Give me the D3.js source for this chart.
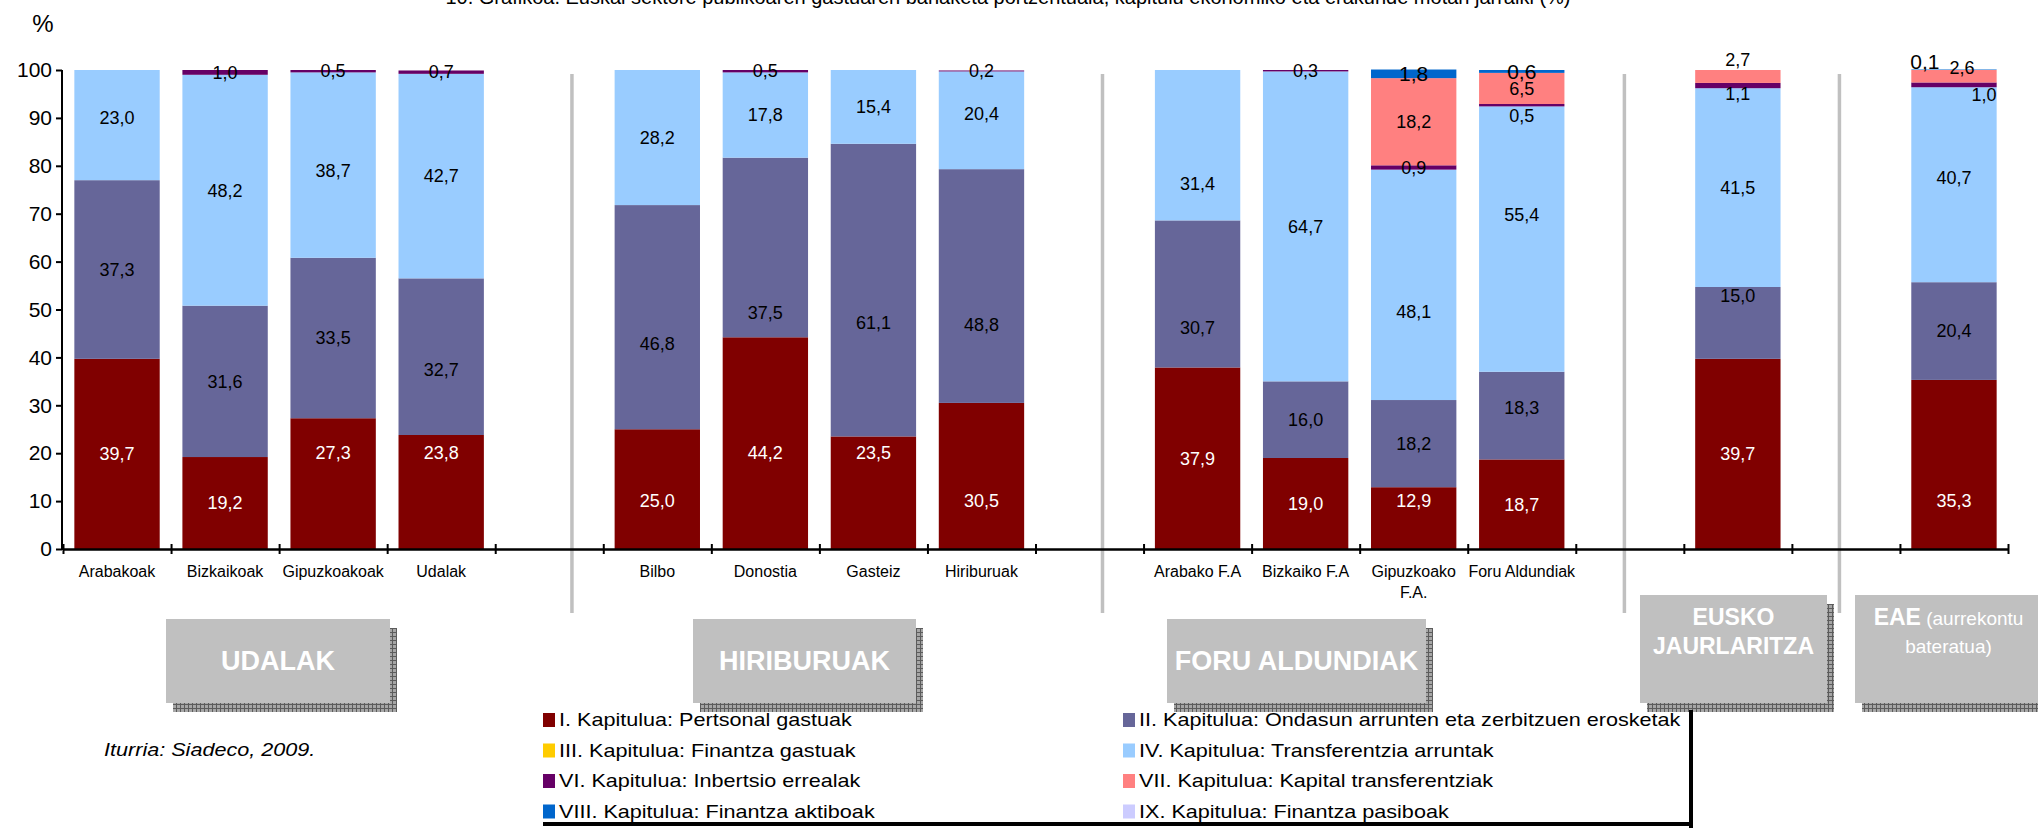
<!DOCTYPE html>
<html>
<head>
<meta charset="utf-8">
<script src="https://cdn.jsdelivr.net/npm/d3@7"></script>
<style>
  html, body { margin: 0; padding: 0; background: #fff; }
  svg { display: block; font-family: "Liberation Sans", Arial, sans-serif; }
</style>
</head>
<body>
<script>
// categories (x slots), "_" entries are the empty gap slots between groups
const slots = ['Arabakoak', 'Bizkaikoak', 'Gipuzkoakoak', 'Udalak', '_1',
  'Bilbo', 'Donostia', 'Gasteiz', 'Hiriburuak', '_2',
  'Arabako F.A', 'Bizkaiko F.A', 'Gipuzkoako F.A.', 'Foru Aldundiak', '_3',
  'Eusko Jaurlaritza', '_4', 'EAE'];
const categories = slots.filter(s => s[0] !== '_');
const tickLabels = ['Arabakoak', 'Bizkaikoak', 'Gipuzkoakoak', 'Udalak',
  'Bilbo', 'Donostia', 'Gasteiz', 'Hiriburuak',
  'Arabako F.A', 'Bizkaiko F.A', 'Gipuzkoako|F.A.', 'Foru Aldundiak', '', ''];

// series values (%), same order as categories
const kapI    = [39.7, 19.2, 27.3, 23.8, 25.0, 44.2, 23.5, 30.5, 37.9, 19.0, 12.9, 18.7, 39.7, 35.3];
const kapII   = [37.3, 31.6, 33.5, 32.7, 46.8, 37.5, 61.1, 48.8, 30.7, 16.0, 18.2, 18.3, 15.0, 20.4];
const kapIII  = [0, 0, 0, 0, 0, 0, 0, 0, 0, 0, 0, 0, 0, 0];
const kapIV   = [23.0, 48.2, 38.7, 42.7, 28.2, 17.8, 15.4, 20.4, 31.4, 64.7, 48.1, 55.4, 41.5, 40.7];
const kapVI   = [0, 1.0, 0.5, 0.7, 0, 0.5, 0, 0.2, 0, 0.3, 0.9, 0.5, 1.1, 1.0];
const kapVII  = [0, 0, 0, 0, 0, 0, 0, 0, 0, 0, 18.2, 6.5, 2.7, 2.6];
const kapVIII = [0, 0, 0, 0, 0, 0, 0, 0, 0, 0, 1.8, 0.6, 0, 0.1];
const kapIX   = [0, 0, 0, 0, 0, 0, 0, 0, 0, 0, 0, 0, 0, 0];

const seriesNames = [
  'I. Kapitulua: Pertsonal gastuak',
  'II. Kapitulua: Ondasun arrunten eta zerbitzuen erosketak',
  'III. Kapitulua: Finantza gastuak',
  'IV. Kapitulua: Transferentzia arruntak',
  'VI. Kapitulua: Inbertsio errealak',
  'VII. Kapitulua: Kapital transferentziak',
  'VIII. Kapitulua: Finantza aktiboak',
  'IX. Kapitulua: Finantza pasiboak'
];
const seriesValues = [kapI, kapII, kapIII, kapIV, kapVI, kapVII, kapVIII, kapIX];
const colors = ['#800000', '#666699', '#FFCC00', '#99CCFF', '#660066', '#FF8080', '#0066CC', '#CCCCFF'];
const yTicks = [0, 10, 20, 30, 40, 50, 60, 70, 80, 90, 100];

const groupBoxes = [
  { lines: [['UDALAK', true]], x0: 166, x1: 390, y0: 619, y1: 703 },
  { lines: [['HIRIBURUAK', true]], x0: 693, x1: 916, y0: 619, y1: 703 },
  { lines: [['FORU ALDUNDIAK', true]], x0: 1167, x1: 1426, y0: 619, y1: 703 },
  { lines: [['EUSKO', true], ['JAURLARITZA', true]], x0: 1640, x1: 1827, y0: 595, y1: 703 },
  { lines: [['EAE', true, ' (aurrekontu'], ['bateratua)', false]], x0: 1855, x1: 2042, y0: 595, y1: 703 }
];

// hand placed label nudges [dx, dy] in px, keyed "category|series index"
const labelNudge = {
  'Arabakoak|3': [0, -7],
  'Gipuzkoakoak|3': [0, 6], 'Gipuzkoakoak|0': [0, -31],
  'Udalak|1': [0, 13], 'Udalak|0': [0, -39],
  'Bilbo|1': [0, 27], 'Bilbo|0': [0, 12],
  'Donostia|1': [0, 65], 'Donostia|0': [0, 10],
  'Gasteiz|1': [0, 33], 'Gasteiz|0': [0, -40],
  'Hiriburuak|1': [0, 39], 'Hiriburuak|3': [0, -7], 'Hiriburuak|0': [0, 25],
  'Arabako F.A|3': [0, 38], 'Arabako F.A|1': [0, 34],
  'Gipuzkoako F.A.|3': [0, 27], 'Gipuzkoako F.A.|0': [0, -17],
  'Foru Aldundiak|4': [0, 10], 'Foru Aldundiak|3': [0, -24], 'Foru Aldundiak|1': [0, -8],
  'Eusko Jaurlaritza|5': [0, -17], 'Eusko Jaurlaritza|4': [0, 8], 'Eusko Jaurlaritza|1': [0, -27],
  'EAE|6': [-29, -8], 'EAE|5': [8, -9], 'EAE|4': [30, 10], 'EAE|3': [0, -7], 'EAE|0': [0, 36]
};

const W = 2038, H = 828;
const svg = d3.select('body').append('svg').attr('width', W).attr('height', H);

const defs = svg.append('defs');
const pat = defs.append('pattern').attr('id', 'hatch')
  .attr('width', 4).attr('height', 4).attr('patternUnits', 'userSpaceOnUse');
pat.append('rect').attr('width', 4).attr('height', 4).attr('fill', '#a6a6a6');
pat.append('path').attr('d', 'M0 0.5H4M0.5 0V4').attr('stroke', '#5c5c5c').attr('stroke-width', 1);

const x = d3.scaleBand().domain(slots).range([63, 2008]).paddingInner(0.21).paddingOuter(0.105);
const slotX = d3.scaleLinear().domain([0, slots.length]).range([63, 2008]);
const y = d3.scaleLinear().domain([0, 100]).range([549, 70]);

// title (cut off at the top edge as in the source picture)
svg.append('text')
  .attr('x', 1008).attr('y', 4)
  .attr('text-anchor', 'middle')
  .style('font-size', '20px')
  .text('10. Grafikoa. Euskal sektore publikoaren gastuaren banaketa portzentuala, kapitulu ekonomiko eta erakunde motari jarraiki (%)');

svg.append('text').attr('x', 43).attr('y', 32).attr('text-anchor', 'middle')
  .style('font-size', '24px').text('%');

// group separators
const sepSlots = [4.71, 9.62, 14.45, 16.44];
svg.append('g').selectAll('line').data(sepSlots).join('line')
  .attr('x1', d => slotX(d)).attr('x2', d => slotX(d))
  .attr('y1', 74).attr('y2', 613)
  .attr('stroke', '#c0c0c0').attr('stroke-width', 3.5);

// stacked bars
const rows = categories.map((c, i) => {
  const r = { cat: c };
  seriesValues.forEach((s, k) => { r['s' + k] = s[i]; });
  return r;
});
const keys = seriesValues.map((s, k) => 's' + k);
const stacked = d3.stack().keys(keys)(rows);

const barG = svg.append('g');
stacked.forEach((layer, k) => {
  barG.append('g').attr('fill', colors[k])
    .selectAll('rect')
    .data(layer.filter(d => d[1] - d[0] > 0))
    .join('rect')
    .attr('x', d => x(d.data.cat))
    .attr('width', x.bandwidth())
    .attr('y', d => y(d[1]))
    .attr('height', d => y(d[0]) - y(d[1]));
});

// value labels
const fmt = v => d3.format('.1f')(v).replace('.', ',');
const labG = svg.append('g').attr('text-anchor', 'middle');
stacked.forEach((layer, k) => {
  layer.filter(d => d[1] - d[0] > 0).forEach(d => {
    const nud = labelNudge[d.data.cat + '|' + k] || [0, 0];
    labG.append('text')
      .attr('x', x(d.data.cat) + x.bandwidth() / 2 + nud[0])
      .attr('y', (y(d[0]) + y(d[1])) / 2 + nud[1])
      .attr('dy', '0.35em')
      .attr('fill', k === 0 ? '#fff' : '#000')
      .style('font-size', k === 6 ? '21px' : '18px')
      .text(fmt(d[1] - d[0]));
  });
});

// y axis
const yAxis = svg.append('g').attr('transform', 'translate(62,0)')
  .call(d3.axisLeft(y).tickValues(yTicks).tickSize(6).tickSizeOuter(0).tickPadding(4));
yAxis.select('.domain').attr('stroke', '#000').attr('stroke-width', 2)
  .attr('d', `M0,${y(100)}V${y(0) + 1}`);
yAxis.selectAll('.tick line').attr('stroke-width', 2);
yAxis.selectAll('.tick text').style('font-size', '21px').attr('fill', '#000')
  .style('font-family', '"Liberation Sans", Arial, sans-serif');

// x axis (ticks on slot boundaries, crossing the line)
const xAxis = svg.append('g').attr('transform', `translate(0,${y(0)})`)
  .call(d3.axisBottom(slotX).tickValues(d3.range(slots.length + 1)).tickFormat('').tickSize(5).tickSizeOuter(0));
xAxis.select('.domain').attr('stroke', '#000').attr('stroke-width', 2.5);
xAxis.selectAll('.tick line').attr('y1', -5).attr('stroke-width', 2);

// category labels
const catG = svg.append('g').attr('text-anchor', 'middle').style('font-size', '16px');
categories.forEach((c, i) => {
  const parts = tickLabels[i].split('|');
  parts.forEach((p, j) => {
    if (!p) return;
    catG.append('text')
      .attr('x', x(c) + x.bandwidth() / 2)
      .attr('y', 577 + j * 21)
      .text(p);
  });
});

// group boxes with hatched shadow
groupBoxes.forEach(b => {
  svg.append('rect').attr('x', b.x0 + 7).attr('y', b.y0 + 9)
    .attr('width', b.x1 - b.x0).attr('height', b.y1 - b.y0).attr('fill', 'url(#hatch)');
  svg.append('rect').attr('x', b.x0).attr('y', b.y0)
    .attr('width', b.x1 - b.x0).attr('height', b.y1 - b.y0).attr('fill', '#c0c0c0');
  const cx = (b.x0 + b.x1) / 2;
  const n = b.lines.length;
  b.lines.forEach((ln, j) => {
    const ty = n > 1 ? b.y0 + 22 + j * 29 : (b.y0 + b.y1) / 2;
    const t = svg.append('text').attr('x', cx)
      .attr('y', ty).attr('dy', '0.35em')
      .attr('text-anchor', 'middle').attr('fill', '#fff')
      .style('font-size', n > 1 ? (ln[1] ? '23px' : '19px') : '27px');
    t.append('tspan').style('font-weight', ln[1] ? 'bold' : 'normal').text(ln[0]);
    if (ln[2]) t.append('tspan').style('font-size', '19px').text(ln[2]);
  });
});

// legend (text drawn a little wide, as in the source)
const legendOrder = [0, 2, 4, 6, 1, 3, 5, 7];
const legG = svg.append('g');
legendOrder.forEach((k, i) => {
  const col = Math.floor(i / 4), row = i % 4;
  const lx = col === 0 ? 543 : 1123;
  const ly = 720 + row * 30.5;
  legG.append('rect').attr('x', lx).attr('y', ly - 7).attr('width', 12).attr('height', 14).attr('fill', colors[k]);
  legG.append('text').attr('transform', `translate(${lx + 16},${ly}) scale(1.2,1)`)
    .attr('dy', '0.35em')
    .style('font-size', '18px').text(seriesNames[k]);
});
legG.append('rect').attr('x', 1689).attr('y', 710).attr('width', 4).attr('height', 118).attr('fill', '#000');
legG.append('rect').attr('x', 543).attr('y', 822).attr('width', 1150).attr('height', 4).attr('fill', '#000');

svg.append('text').attr('transform', 'translate(104,756) scale(1.2,1)')
  .style('font-size', '18px').style('font-style', 'italic')
  .text('Iturria: Siadeco, 2009.');
</script>
</body>
</html>
